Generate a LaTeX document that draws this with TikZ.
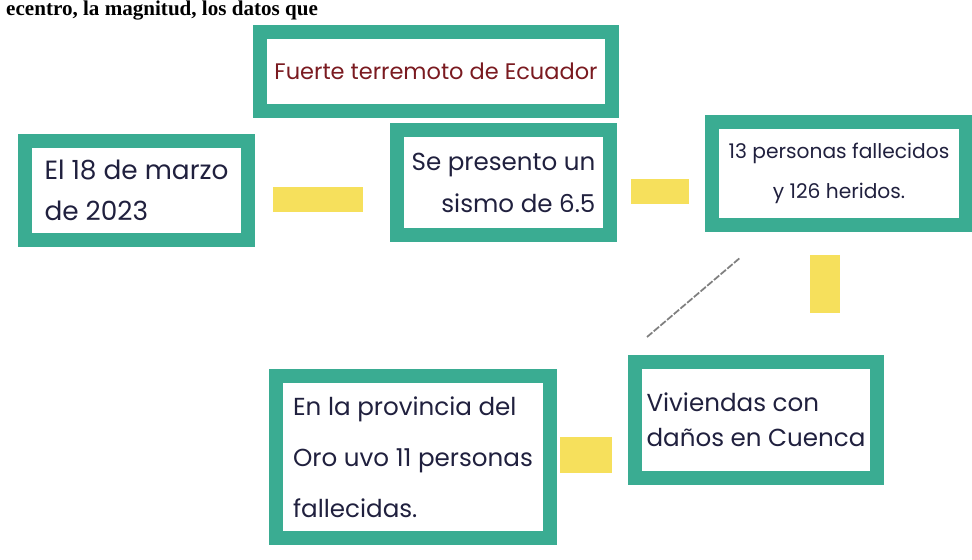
\documentclass[tikz,border=0pt]{standalone}
\usepackage{fontspec}
\setmainfont{Poppins}
\newfontfamily\printfont{Liberation Serif}
\usepackage{xcolor}
\usetikzlibrary{calc,positioning}
\definecolor{marker}{RGB}{58,172,146}
\definecolor{hiyellow}{RGB}{246,224,92}
\definecolor{ink}{RGB}{32,32,62}
\definecolor{redink}{RGB}{122,26,32}

\begin{document}
\begin{tikzpicture}[x=0.02cm, y=-0.02cm,
    box/.style={draw=marker, line width=8pt, inner sep=0pt, outer sep=0pt, text=ink},
    hl/.style={draw=hiyellow, line width=0.5cm},
    pencil/.style={draw=gray, line width=1pt, dash pattern=on 4pt off 1pt}]
    \useasboundingbox (0,0) rectangle (972,559);

    \node[anchor=base west, font=\printfont\bfseries\fontsize{12}{14}\selectfont] (encabezado) at (0,15) {ecentro, la magnitud, los datos que};

    \node[box, text=redink, font=\fontsize{12.8}{20}\selectfont, minimum width=7.04cm, minimum height=1.58cm] (titulo) at (436,71.5) {Fuerte terremoto de Ecuador};
    \node[box, align=left, font=\fontsize{15}{23}\selectfont, minimum width=4.46cm, minimum height=1.98cm] (fecha) at (136.5,190.5) {El 18 de marzo\\de 2023};
    \node[box, align=right, font=\fontsize{14}{24}\selectfont, minimum width=4.26cm, minimum height=2.1cm] (sismo) at (503.5,182.5) {Se presento un\\sismo de 6.5};
    \node[box, align=center, font=\fontsize{11.5}{23}\selectfont, minimum width=5.08cm, minimum height=2.06cm] (victimas) at (839,173.5) {13 personas fallecidos\\y 126 heridos.};
    \node[box, align=left, font=\fontsize{14}{20}\selectfont, minimum width=4.84cm, minimum height=2.32cm] (viviendas) at (756,420) {Viviendas con\\daños en Cuenca};
    \node[box, align=left, font=\fontsize{14}{29}\selectfont, minimum width=5.48cm, minimum height=3.24cm] (oro) at (413,457) {En la provincia del\\Oro uvo 11 personas\\fallecidas.};

    \draw[hl, shorten <=0.5cm, shorten >=0.68cm] ($(fecha.east)+(0,9)$) -- ($(sismo.west)+(0,17)$);
    \draw[hl, shorten <=0.42cm, shorten >=0.46cm] ($(sismo.east)+(0,8.5)$) -- ($(victimas.west)+(0,17.5)$);
    \draw[hl, line width=0.6cm, shorten <=0.6cm, shorten >=0.98cm] ($(victimas.south)+(-14,0)$) -- ($(viviendas.north)+(69,0)$);
    \draw[hl, line width=0.72cm, shorten <=0.2cm, shorten >=0.46cm] ($(oro.east)+(0,-2)$) -- ($(viviendas.west)+(0,35)$);

    \coordinate (trazo) at (647,337);
    \draw[pencil, shorten >=1.02cm] (trazo) -- (victimas);
\end{tikzpicture}
\end{document}
